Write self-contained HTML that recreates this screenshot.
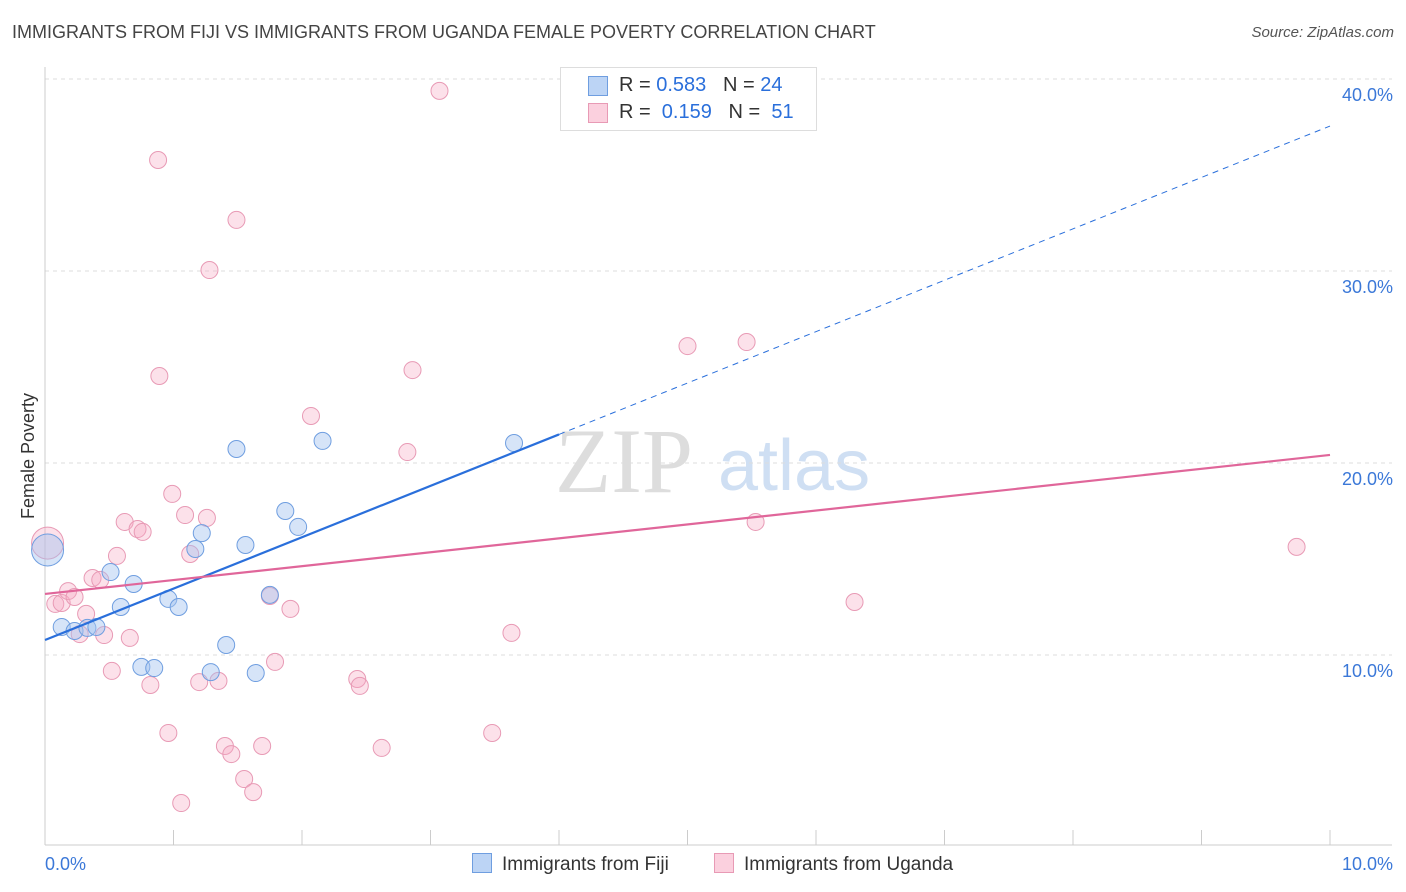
<!DOCTYPE html>
<html><head><meta charset="utf-8"><style>
body{margin:0;background:#fff;font-family:"Liberation Sans",sans-serif;}
#wrap{position:relative;width:1406px;height:892px;overflow:hidden;}
.t{position:absolute;white-space:nowrap;}
</style></head><body>
<div id="wrap">
<div class="t" style="left:12px;top:22px;font-size:18px;color:#444;">IMMIGRANTS FROM FIJI VS IMMIGRANTS FROM UGANDA FEMALE POVERTY CORRELATION CHART</div>
<div class="t" style="right:12px;top:24px;font-size:15px;color:#555;font-style:italic;">Source: ZipAtlas.com</div>
<svg id="svg" width="1406" height="892" style="position:absolute;left:0;top:0"></svg>
</div>
<script>
const fijiX=[0.02,0.13,0.23,0.33,0.40,0.51,0.59,0.69,0.75,0.85,0.96,1.04,1.17,1.22,1.29,1.41,1.49,1.56,1.64,1.75,1.87,1.97,2.16,3.65];
const fijiY=[15.47,11.46,11.25,11.41,11.46,14.32,12.50,13.70,9.38,9.32,12.92,12.50,15.52,16.35,9.11,10.52,20.73,15.73,9.06,13.13,17.50,16.67,21.15,21.04];
const ugX=[0.02,0.08,0.13,0.18,0.23,0.27,0.32,0.37,0.43,0.46,0.52,0.56,0.62,0.66,0.72,0.76,0.82,0.88,0.89,0.96,0.99,1.06,1.09,1.13,1.20,1.26,1.28,1.35,1.40,1.45,1.49,1.55,1.62,1.69,1.75,1.79,1.91,2.07,2.43,2.45,2.62,2.82,2.86,3.07,3.48,3.63,5.00,5.46,5.53,6.30,9.74];
const ugY=[15.83,12.66,12.71,13.33,13.02,11.09,12.14,14.01,13.91,11.04,9.17,15.16,16.93,10.89,16.56,16.41,8.44,35.78,24.53,5.94,18.39,2.29,17.29,15.26,8.59,17.14,30.05,8.65,5.26,4.84,32.66,3.54,2.86,5.26,13.07,9.64,12.40,22.45,8.75,8.39,5.16,20.57,24.84,39.38,5.94,11.15,26.09,26.30,16.93,12.76,15.63];
const yTicks=[10,20,30,40];
const yTickLabels=["10.0%","20.0%","30.0%","40.0%"];
const fijiLine=[10.78,37.55];
const ugLine=[13.18,20.42];
const X=v=>45+v*128.5, Y=v=>847-v*19.2;
const svg=document.getElementById('svg');
const NS='http://www.w3.org/2000/svg';
function mk(tag,attrs,parent){const e=document.createElementNS(NS,tag);for(const k in attrs)e.setAttribute(k,attrs[k]);(parent||svg).appendChild(e);return e;}
// watermark
let w=mk('text',{x:555,y:492,'font-size':92,fill:'#ddd','font-family':'Liberation Serif'});w.textContent='ZIP';


let w2=mk('text',{x:718,y:490,'font-size':72,fill:'#cfdff3','font-family':'Liberation Sans'});w2.textContent='atlas';


yTicks.forEach((t,i)=>{
 let g=mk('line',{x1:45,x2:1392,y1:Y(t),y2:Y(t),stroke:'#ddd','stroke-dasharray':'4,4'});
 
 
 let l=mk('text',{x:1393,y:Y(t)+22,'text-anchor':'end','font-size':18,fill:'#3b78d8'});l.textContent=yTickLabels[i];
 
 
});
let ax=mk('line',{x1:45,x2:1392,y1:845,y2:845,stroke:'#ccc'});


let ay=mk('line',{x1:45,x2:45,y1:67,y2:845,stroke:'#ccc'});


for(let i=0;i<=10;i++){let tk=mk('line',{x1:X(i),x2:X(i),y1:830,y2:845,stroke:'#ccc'});
 
 }
let xl0=mk('text',{x:45,y:870,'font-size':18,fill:'#3b78d8'});xl0.textContent='0.0%';


let xl1=mk('text',{x:1393,y:870,'font-size':18,fill:'#3b78d8','text-anchor':'end'});xl1.textContent='10.0%';


let yt=mk('text',{x:34,y:456,'font-size':18,fill:'#333','text-anchor':'middle',transform:'rotate(-90 34 456)'});yt.textContent='Female Poverty';


function pts(xs,ys,fill,stroke,name){xs.forEach((x,i)=>{let c=mk('circle',{cx:X(x),cy:Y(ys[i]),r:i==0?16:8.5,fill:fill,stroke:stroke,'stroke-width':1});
 
 });}
pts(ugX,ugY,'rgba(245,170,195,0.35)','#e89ab5','point-uganda');
pts(fijiX,fijiY,'rgba(164,196,240,0.45)','#6f9ee0','point-fiji');
let fl=mk('line',{x1:X(0),y1:Y(fijiLine[0]),x2:X(4),y2:Y(fijiLine[0]+(fijiLine[1]-fijiLine[0])*0.4),stroke:'#2a6fdb','stroke-width':2.2});


let fd=mk('line',{x1:X(4),y1:Y(fijiLine[0]+(fijiLine[1]-fijiLine[0])*0.4),x2:X(10),y2:Y(fijiLine[1]),stroke:'#2a6fdb','stroke-width':1,'stroke-dasharray':'6,5'});


let ul=mk('line',{x1:X(0),y1:Y(ugLine[0]),x2:X(10),y2:Y(ugLine[1]),stroke:'#e0669a','stroke-width':2.2});


</script>
<div class="t" style="left:560px;top:67px;width:255px;height:62px;border:1px solid #ddd;background:#fff;font-size:20px;color:#333;">
 <div style="position:absolute;left:27px;top:8px;width:18px;height:18px;background:#bcd4f5;border:1px solid #6f9ee0;"></div>
 <div style="position:absolute;left:58px;top:6px;">R = <span style="color:#2a6fdb">0.583</span>&nbsp;&nbsp;&nbsp;N = <span style="color:#2a6fdb">24</span></div>
 <div style="position:absolute;left:27px;top:35px;width:18px;height:18px;background:#fbd0de;border:1px solid #e89ab5;"></div>
 <div style="position:absolute;left:58px;top:33px;">R = &nbsp;<span style="color:#2a6fdb">0.159</span>&nbsp;&nbsp;&nbsp;N = &nbsp;<span style="color:#2a6fdb">51</span></div>
</div>
<div class="t" style="left:472px;top:853px;font-size:19px;color:#333;"><span style="display:inline-block;width:18px;height:18px;background:#bcd4f5;border:1px solid #6f9ee0;vertical-align:-3px;margin-right:10px;"></span>Immigrants from Fiji</div>
<div class="t" style="left:714px;top:853px;font-size:19px;color:#333;"><span style="display:inline-block;width:18px;height:18px;background:#fbd0de;border:1px solid #e89ab5;vertical-align:-3px;margin-right:10px;"></span>Immigrants from Uganda</div>
</body></html>
